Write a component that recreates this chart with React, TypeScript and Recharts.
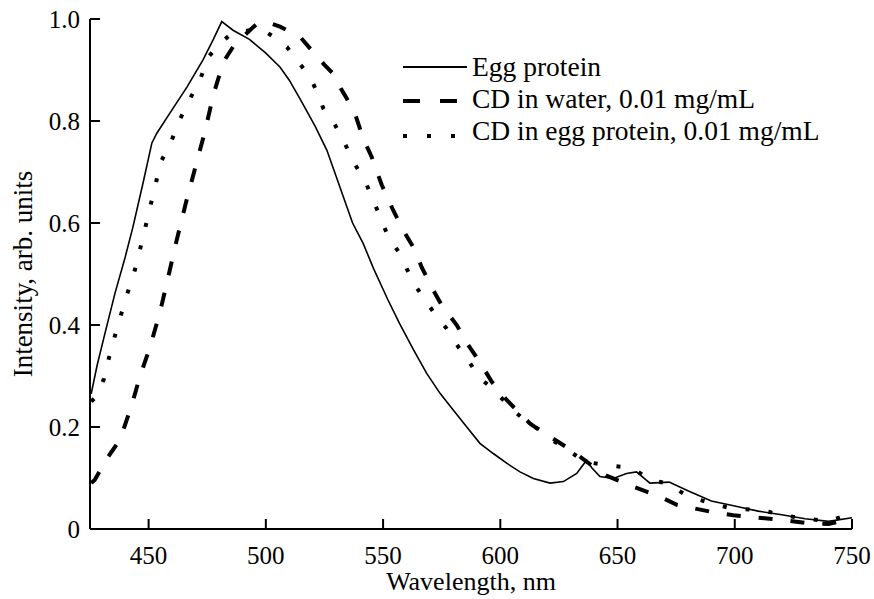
import React from 'react';
import { LineChart, Line, XAxis, YAxis, Legend } from 'recharts';

// ---- Data (wavelength in nm, normalized intensity) ----
const eggNm = [425.5, 428, 431.4, 435.7, 440, 443.3, 447.6, 451.4, 453.5, 459, 466.4, 473.2, 477.5, 481.2, 486, 493, 500, 506, 510, 515, 521, 526, 530, 533, 537, 541.5, 546, 549.5, 552, 557, 563, 568.6, 574.3, 580, 585.7, 591.3, 597, 602.7, 608.4, 614.1, 621.2, 626.9, 632.6, 636.8, 639, 642.5, 648.2, 653.8, 658.1, 663.8, 672, 680, 690, 700, 710, 720, 730, 740, 750];
const eggVal = [0.265, 0.32, 0.384, 0.463, 0.533, 0.592, 0.678, 0.757, 0.776, 0.815, 0.867, 0.92, 0.959, 0.995, 0.978, 0.96, 0.933, 0.906, 0.88, 0.84, 0.79, 0.743, 0.691, 0.652, 0.6, 0.56, 0.51, 0.475, 0.45, 0.403, 0.351, 0.305, 0.266, 0.233, 0.2, 0.168, 0.148, 0.129, 0.112, 0.099, 0.09, 0.093, 0.109, 0.135, 0.12, 0.103, 0.099, 0.109, 0.112, 0.09, 0.092, 0.075, 0.055, 0.045, 0.035, 0.028, 0.02, 0.015, 0.022];

const waterNm = [425.5, 427, 431.4, 434, 437.8, 442.8, 446.3, 450.6, 454.9, 458.4, 462, 466.2, 469.8, 474, 477.6, 481.9, 486.1, 490.4, 496, 500, 506, 514.6, 520, 525, 528.7, 532.3, 534.4, 538, 541.5, 545.1, 549.4, 554.3, 559.3, 563.6, 566.4, 570.7, 575, 581.4, 586.3, 592, 596.3, 602.7, 612.6, 617.6, 623.3, 631.1, 636.8, 645, 656.8, 668.3, 675.5, 689.6, 699.4, 710, 720, 730, 740, 750];
const waterVal = [0.09, 0.096, 0.132, 0.15, 0.175, 0.243, 0.299, 0.357, 0.426, 0.495, 0.567, 0.645, 0.707, 0.779, 0.851, 0.916, 0.946, 0.966, 0.99, 0.995, 0.985, 0.965, 0.936, 0.91, 0.893, 0.861, 0.845, 0.815, 0.766, 0.73, 0.675, 0.625, 0.58, 0.547, 0.514, 0.474, 0.439, 0.4, 0.361, 0.322, 0.289, 0.253, 0.207, 0.191, 0.175, 0.152, 0.132, 0.105, 0.083, 0.063, 0.047, 0.034, 0.027, 0.022, 0.018, 0.012, 0.01, 0.02];

const eggCdNm = [425.5, 427.6, 431, 433.2, 435.7, 438.1, 440.9, 443.7, 446, 448.3, 450.6, 452.9, 454.8, 459.4, 463, 467.6, 472.2, 475.4, 480, 485, 490, 495, 500, 505, 509, 513.1, 518.8, 522.4, 524.5, 529.5, 533, 536.6, 543, 545.8, 552.2, 556.5, 560, 563.6, 571.4, 577.1, 582.1, 587.1, 590.6, 594.9, 601.3, 607, 611.2, 617, 623.3, 629.7, 636.1, 645.3, 651.7, 658.8, 663.8, 670.9, 678, 685.2, 692.3, 699.4, 710.7, 724.8, 740, 747.5, 750];
const eggCdVal = [0.25, 0.259, 0.295, 0.338, 0.38, 0.418, 0.461, 0.5, 0.542, 0.585, 0.631, 0.673, 0.716, 0.757, 0.8, 0.843, 0.884, 0.925, 0.95, 0.97, 0.975, 0.98, 0.975, 0.96, 0.945, 0.92, 0.887, 0.851, 0.825, 0.792, 0.763, 0.727, 0.675, 0.645, 0.573, 0.544, 0.511, 0.478, 0.426, 0.393, 0.357, 0.325, 0.299, 0.282, 0.253, 0.227, 0.21, 0.194, 0.171, 0.152, 0.132, 0.125, 0.122, 0.112, 0.096, 0.09, 0.07, 0.057, 0.047, 0.04, 0.037, 0.024, 0.015, 0.027, 0.02];

const xTicks = [450, 500, 550, 600, 650, 700, 750];
const yTicks = [0, 0.2, 0.4, 0.6, 0.8, 1.0];

const seriesNames = ['Egg protein', 'CD in water, 0.01 mg/mL', 'CD in egg protein, 0.01 mg/mL'];

const toPoints = (xs: number[], ys: number[]) => xs.map((nm, i) => ({ nm, v: ys[i] }));
const eggData = toPoints(eggNm, eggVal);
const waterData = toPoints(waterNm, waterVal);
const eggCdData = toPoints(eggCdNm, eggCdVal);

const FONT = '"Liberation Serif", "DejaVu Serif", serif';
const TICK_FS = 25;
const LABEL_FS = 26;
const LEGEND_FS = 27.5;

const SOLID = { strokeWidth: 1.6, dash: undefined as string | undefined };
const DASHED = { strokeWidth: 4, dash: '14 18' };
const DOTTED = { strokeWidth: 4, dash: '4 19' };

const XTick = (props: any) => {
  const { x, y, payload } = props;
  return (
    <g>
      <line x1={x} x2={x} y1={y} y2={y - 10} stroke="#000" strokeWidth={2} />
      <text x={x} y={y + 35} textAnchor="middle" fontFamily={FONT} fontSize={TICK_FS} fill="#000">
        {payload.value}
      </text>
    </g>
  );
};

const YTick = (props: any) => {
  const { x, y, payload } = props;
  const v = payload.value as number;
  return (
    <g>
      <line x1={x} x2={x + 10} y1={y} y2={y} stroke="#000" strokeWidth={2} />
      <text x={x - 10} y={y} dy="0.35em" textAnchor="end" fontFamily={FONT} fontSize={TICK_FS} fill="#000">
        {v === 0 ? '0' : v.toFixed(1)}
      </text>
    </g>
  );
};

const YLabel = (props: any) => {
  const vb = props.viewBox || {};
  const cx = (vb.x ?? 89) + (vb.width ?? 1) - 67;
  const cy = (vb.y ?? 19) + (vb.height ?? 510) / 2;
  return (
    <text x={cx} y={cy} transform={`rotate(-90, ${cx}, ${cy})`} textAnchor="middle" dy="0.35em" fontFamily={FONT} fontSize={27} fill="#000">
      Intensity, arb. units
    </text>
  );
};

const XLabel = (props: any) => {
  const vb = props.viewBox || {};
  const cx = (vb.x ?? 90) + (vb.width ?? 762) / 2;
  const baseline = (vb.y ?? 529) + 61;
  return (
    <text x={cx} y={baseline} textAnchor="middle" fontFamily={FONT} fontSize={LABEL_FS} fill="#000">
      Wavelength, nm
    </text>
  );
};

const styles = [SOLID, DASHED, DOTTED];

const LegendContent = () => (
  <div style={{ fontFamily: FONT, fontSize: LEGEND_FS, color: '#000', lineHeight: '32px' }}>
    {seriesNames.map((name, i) => (
      <div key={name} style={{ display: 'flex', alignItems: 'center', height: 32, whiteSpace: 'nowrap' }}>
        <svg width={64} height={32} style={{ marginRight: 5, flex: 'none' }}>
          <line
            x1={0}
            x2={64}
            y1={i === 2 ? 21 : i === 1 ? 18 : 16}
            y2={i === 2 ? 21 : i === 1 ? 18 : 16}
            stroke="#000"
            strokeWidth={i === 0 ? 2 : styles[i].strokeWidth}
            strokeDasharray={i === 1 ? '17 20' : i === 2 ? '4 20' : undefined}
          />
        </svg>
        <span>{name}</span>
      </div>
    ))}
  </div>
);

export default function App() {
  return (
    <div style={{ position: 'absolute', left: 0, top: 0, background: '#fff' }}>
      <LineChart width={874} height={599} margin={{ top: 19, right: 22, bottom: 69, left: 89 }}>
        <XAxis
          dataKey="nm"
          type="number"
          domain={[425, 750]}
          ticks={xTicks}
          height={1}
          tickSize={0}
          tickMargin={0}
          tickLine={false}
          tick={<XTick />}
          axisLine={{ stroke: '#000', strokeWidth: 2 }}
          allowDuplicatedCategory={false}
          label={{ content: (p: any) => <XLabel {...p} /> }}
        />
        <YAxis
          type="number"
          domain={[0, 1]}
          ticks={yTicks}
          width={1}
          tickSize={0}
          tickMargin={0}
          tickLine={false}
          tick={<YTick />}
          axisLine={{ stroke: '#000', strokeWidth: 2 }}
          label={{ content: (p: any) => <YLabel {...p} /> }}
        />
        <Legend
          layout="vertical"
          align="center"
          verticalAlign="middle"
          content={<LegendContent />}
          wrapperStyle={{ position: 'absolute', left: 403, top: 51, width: 'auto', height: 'auto' }}
        />
        <Line
          data={eggData}
          dataKey="v"
          name={seriesNames[0]}
          type="linear"
          stroke="#000"
          strokeWidth={SOLID.strokeWidth}
          dot={false}
          activeDot={false}
          isAnimationActive={false}
        />
        <Line
          data={waterData}
          dataKey="v"
          name={seriesNames[1]}
          type="linear"
          stroke="#000"
          strokeWidth={DASHED.strokeWidth}
          strokeDasharray={DASHED.dash}
          dot={false}
          activeDot={false}
          isAnimationActive={false}
        />
        <Line
          data={eggCdData}
          dataKey="v"
          name={seriesNames[2]}
          type="linear"
          stroke="#000"
          strokeWidth={DOTTED.strokeWidth}
          strokeDasharray={DOTTED.dash}
          dot={false}
          activeDot={false}
          isAnimationActive={false}
        />
      </LineChart>
    </div>
  );
}
